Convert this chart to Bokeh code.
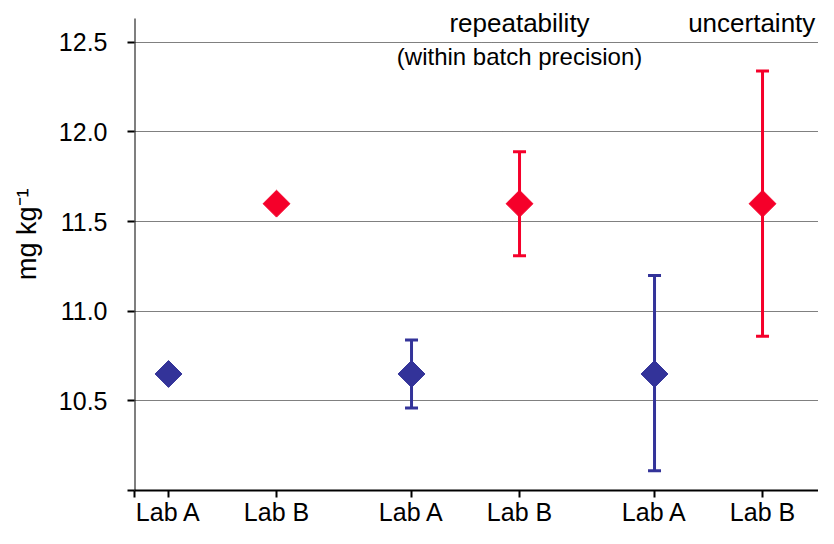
from bokeh.plotting import figure
from bokeh.models import ColumnDataSource, Whisker, TeeHead, FixedTicker, Label, Range1d
from bokeh.embed import file_html
from bokeh.resources import INLINE

# ---- data ----
lab_labels = ["Lab A", "Lab B", "Lab A", "Lab B", "Lab A", "Lab B"]
x_pos = [1, 5, 10, 14, 19, 23]
means = [10.65, 11.60, 10.65, 11.60, 10.65, 11.60]
# error bars: repeatability (group 2) and uncertainty (group 3)
err_x = [10, 14, 19, 23]
err_lower = [10.46, 11.31, 10.11, 10.86]
err_upper = [10.84, 11.89, 11.20, 12.34]
y_ticks = [10.0, 10.5, 11.0, 11.5, 12.0, 12.5]
y_axis_top = 12.633
annot_text = ["repeatability", "(within batch precision)", "uncertainty"]
annot_x = [14, 14, 22.6]
annot_y = [12.608, 12.422, 12.608]
annot_size = ["26px", "24px", "26px"]

BLUE = "#333399"
RED = "#F5002A"
lab_colors = {"Lab A": BLUE, "Lab B": RED}
colors = [lab_colors[l] for l in lab_labels]
err_colors = [BLUE, RED, BLUE, RED]

FONT = "Liberation Sans"

x_start = x_pos[0] - 1.26
x_end = x_start + 684 / 27.0

p = figure(width=818, height=528, output_backend="svg", toolbar_location=None,
           x_range=Range1d(x_start, x_end), y_range=Range1d(10.0, 10.0 + 492 / 180.0),
           min_border_left=134, min_border_right=0, min_border_top=0, min_border_bottom=36)
p.outline_line_color = None
p.background_fill_color = "white"
p.border_fill_color = "white"

# grid
p.xgrid.visible = False
p.ygrid.ticker = FixedTicker(ticks=y_ticks[1:])
p.ygrid.grid_line_color = "black"
p.ygrid.grid_line_dash = "1 1"
p.ygrid.grid_line_width = 1

# axes
p.xaxis.ticker = FixedTicker(ticks=[x_start] + x_pos)
p.xaxis.major_label_overrides = {x: l for x, l in zip(x_pos, lab_labels)}
p.xaxis.major_label_overrides[x_start] = ""
p.yaxis.ticker = FixedTicker(ticks=y_ticks)
p.yaxis.major_label_overrides = {t: ("" if t == 10.0 else f"{t:.1f}") for t in y_ticks}
for ax in (p.xaxis[0], p.yaxis[0]):
    ax.axis_line_color = "black"
    ax.axis_line_width = 2
    ax.major_tick_line_color = "black"
    ax.major_tick_line_width = 2
    ax.major_tick_in = 0
    ax.major_tick_out = 7
    ax.minor_tick_line_color = None
    ax.major_label_text_font = FONT
    ax.major_label_text_color = "black"
p.xaxis.major_label_text_font_size = "25px"
p.xaxis.major_label_text_line_height = 1.0
p.yaxis.major_label_text_font_size = "25px"
p.xaxis.major_label_standoff = 0
p.yaxis.major_label_standoff = 20
p.yaxis.axis_line_color = None
p.yaxis.axis_label = "\u00a0\u00a0\u00a0mg kg⁻¹"
p.yaxis.axis_label_text_font = FONT
p.yaxis.axis_label_text_font_size = "27px"
p.yaxis.axis_label_text_font_style = "normal"
p.yaxis.axis_label_text_color = "black"
p.yaxis.axis_label_standoff = 14

# y axis line (stops a little above the top gridline)
p.segment(x0=[x_start], y0=[y_ticks[0]], x1=[x_start], y1=[y_axis_top],
          line_color="black", line_width=2)

# error bars
for i in range(len(err_x)):
    src = ColumnDataSource(dict(x=[err_x[i]], lower=[err_lower[i]], upper=[err_upper[i]]))
    c = err_colors[i]
    w = Whisker(base="x", lower="lower", upper="upper", source=src,
                line_color=c, line_width=3,
                upper_head=TeeHead(size=13, line_color=c, line_width=3),
                lower_head=TeeHead(size=13, line_color=c, line_width=3))
    p.add_layout(w)

# diamonds
src = ColumnDataSource(dict(x=x_pos, y=means, color=colors))
p.scatter("x", "y", source=src, marker="square", size=19, angle=0.785398,
          fill_color="color", line_color="color", line_width=1)

# annotations
for t, ax_, ay, fs in zip(annot_text, annot_x, annot_y, annot_size):
    p.add_layout(Label(x=ax_, y=ay, text=t, text_align="center", text_baseline="middle",
                       text_font=FONT, text_font_size=fs, text_color="black"))

open("out.html", "w").write(file_html(p, INLINE))
